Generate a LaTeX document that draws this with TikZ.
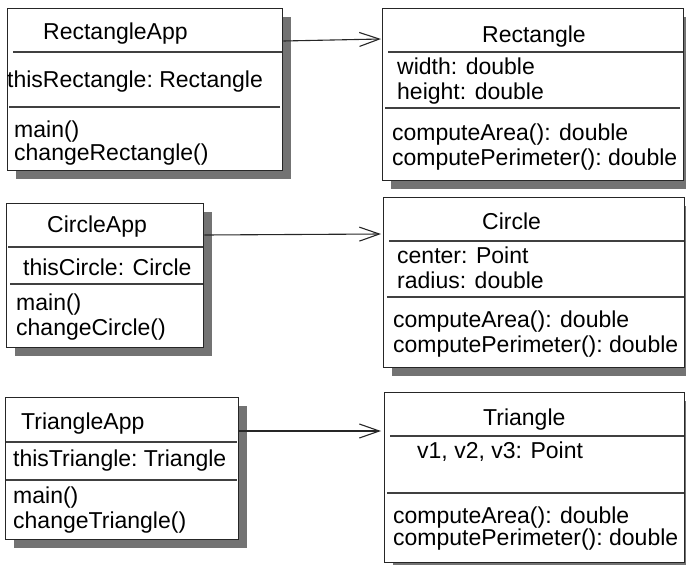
\documentclass[tikz,border=0pt]{standalone}
\usepackage{fontspec}
\setmainfont{Liberation Sans}
\usetikzlibrary{arrows.meta,shadows}
\tikzset{
  classbox/.style={draw=black!85, line width=1.4pt, fill=white, inner sep=0pt, anchor=north west,
    drop shadow={shadow xshift=8pt, shadow yshift=-8pt, fill=black!55, opacity=1}},
  divider/.style={draw=black!75, line width=1.1pt},
  member/.style={anchor=base west, inner sep=0pt, text=black},
  assoc/.style={draw=black!85, line width=1.1pt, -{Straight Barb[length=20pt,width=14pt]}}
}

\begin{document}
\begin{tikzpicture}[x=1pt, y=-1pt, font=\fontsize{23}{28}\selectfont]
    \useasboundingbox (0,0) rectangle (686,565);
    % class boxes
    \node[classbox, minimum width=275pt, minimum height=162pt] (rapp) at (7,8) {};
    \node[classbox, minimum width=301pt, minimum height=172pt] (rect) at (382,8) {};
    \node[classbox, minimum width=197pt, minimum height=144pt] (capp) at (6,203) {};
    \node[classbox, minimum width=301pt, minimum height=170pt] (circ) at (383,197) {};
    \node[classbox, minimum width=233pt, minimum height=142pt] (tapp) at (5,397) {};
    \node[classbox, minimum width=300pt, minimum height=170pt] (tri) at (384,392) {};
    % compartments
    \draw[divider]
    (13,52) -- (282,52)
    (9,107) -- (280,107)
    (388,52) -- (683,52)
    (385,108) -- (680,108)
    (8,247) -- (203,247)
    (10,284) -- (203,284)
    (389,241) -- (684,241)
    (387,297) -- (684,297)
    (6,442) -- (237,442)
    (6,480) -- (237,480)
    (390,436) -- (684,436)
    (387,493) -- (684,493);
    % RectangleApp
    \node[member] (rappName) at (43,39) {RectangleApp};
    \node[member] (rappAttr) at (7,87) {thisRectangle:\ Rectangle};
    \node[member] (rappOpA) at (14,137) {main()};
    \node[member] (rappOpB) at (14,160) {changeRectangle()};
    % Rectangle
    \node[member] (rectName) at (482,42) {Rectangle};
    \node[member] (rectAttrA) at (397,74) {width: double};
    \node[member] (rectAttrB) at (397,99) {height: double};
    \node[member] (rectOpA) at (392,140) {computeArea(): double};
    \node[member] (rectOpB) at (392,165) {computePerimeter():\ double};
    % CircleApp
    \node[member] (cappName) at (47,232) {CircleApp};
    \node[member] (cappAttr) at (23,275) {thisCircle: Circle};
    \node[member] (cappOpA) at (16,310) {main()};
    \node[member] (cappOpB) at (16,335) {changeCircle()};
    % Circle
    \node[member] (circName) at (482,229) {Circle};
    \node[member] (circAttrA) at (397,263) {center: Point};
    \node[member] (circAttrB) at (397,288) {radius: double};
    \node[member] (circOpA) at (393,327) {computeArea(): double};
    \node[member] (circOpB) at (393,352) {computePerimeter():\ double};
    % TriangleApp
    \node[member] (tappName) at (21,429) {TriangleApp};
    \node[member] (tappAttr) at (13,466) {thisTriangle:\ Triangle};
    \node[member] (tappOpA) at (13,503) {main()};
    \node[member] (tappOpB) at (13,528) {changeTriangle()};
    % Triangle
    \node[member] (triName) at (483,425) {Triangle};
    \node[member] (triAttr) at (417,458) {v1, v2, v3: Point};
    \node[member] (triOpA) at (393,523) {computeArea(): double};
    \node[member] (triOpB) at (393,545) {computePerimeter():\ double};
    % associations
    \draw[assoc] ([yshift=-33pt]rapp.north east) -- ([yshift=-31pt,xshift=-1pt]rect.north west);
    \draw[assoc] ([yshift=-32pt]capp.north east) -- ([yshift=-37pt,xshift=-2pt]circ.north west);
    \draw[assoc] ([yshift=-34pt]tapp.north east) -- ([yshift=-39pt,xshift=-3pt]tri.north west);
\end{tikzpicture}
\end{document}
